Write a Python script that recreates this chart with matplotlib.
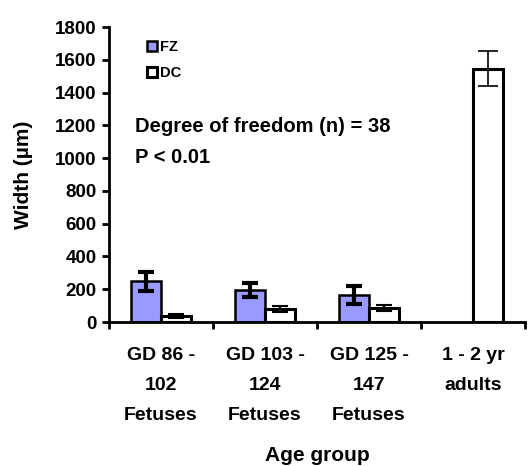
import numpy as np
import matplotlib.pyplot as plt

plt.rcParams['font.family'] = ['Liberation Sans', 'DejaVu Sans']
plt.rcParams['font.weight'] = 'bold'

groups = ['GD 86 -\n102\nFetuses', 'GD 103 -\n124\nFetuses', 'GD 125 -\n147\nFetuses', '1 - 2 yr\nadults']
fz = [250, 195, 165, np.nan]
fz_err = [58, 45, 53, np.nan]
dc = [35, 80, 85, 1546]
dc_err = [12, 20, 18, 105]

fig = plt.figure(figsize=(5.3, 4.66), dpi=100)
ax = fig.add_axes([0.2057, 0.309, 0.785, 0.633])

x = np.arange(len(groups))
w = 0.29
ax.bar(x - w/2, fz, w, color='#9999FF', edgecolor='black', linewidth=1.8, label='FZ', zorder=2)
ax.bar(x + w/2, dc, w, color='white', edgecolor='black', linewidth=2.2, label='DC', zorder=2)

# thick error bars for the fetal groups, thin for adults
ax.errorbar(x[:3] - w/2, fz[:3], yerr=fz_err[:3], fmt='none', ecolor='black', elinewidth=3, capsize=5.5, capthick=3, zorder=3)
ax.errorbar(x[:3] + w/2, dc[:3], yerr=dc_err[:3], fmt='none', ecolor='black', elinewidth=1.5, capsize=5.5, capthick=1.5, zorder=3)
ax.errorbar(x[3:] + w/2, dc[3:], yerr=dc_err[3:], fmt='none', ecolor='black', elinewidth=1.2, capsize=7, capthick=1.2, zorder=3)

ax.set_xlim(-0.5, 3.5)
ax.set_ylim(0, 1800)
ax.set_yticks(range(0, 1801, 200))
ax.set_xticks(x)
ax.set_xticklabels(groups, linespacing=2.0)
ax.set_xticks(np.arange(-0.5, 3.6, 1), minor=True)
ax.tick_params(axis='x', which='major', length=0, pad=18, labelsize=14)
ax.tick_params(axis='x', which='minor', length=5, width=2, direction='out')
ax.tick_params(axis='y', length=5, width=2, labelsize=13.5, pad=4)

for s in ['top', 'right']:
    ax.spines[s].set_visible(False)
for s in ['left', 'bottom']:
    ax.spines[s].set_linewidth(2)

ax.set_ylabel('Width (µm)', fontsize=15, fontweight='bold', labelpad=16)
ax.set_xlabel('Age group', fontsize=15, fontweight='bold', labelpad=16)

ax.legend(loc='upper left', bbox_to_anchor=(0.06, 1.0), frameon=False, fontsize=10.5,
          handlelength=0.7, handleheight=0.7, handletextpad=0.2, labelspacing=0.8)

ax.text(0.0625, 0.664, 'Degree of freedom (n) = 38', transform=ax.transAxes, fontsize=14.5, fontweight='bold', va='center')
ax.text(0.0625, 0.559, 'P < 0.01', transform=ax.transAxes, fontsize=14.5, fontweight='bold', va='center')

fig.savefig('out.png', dpi=100)
